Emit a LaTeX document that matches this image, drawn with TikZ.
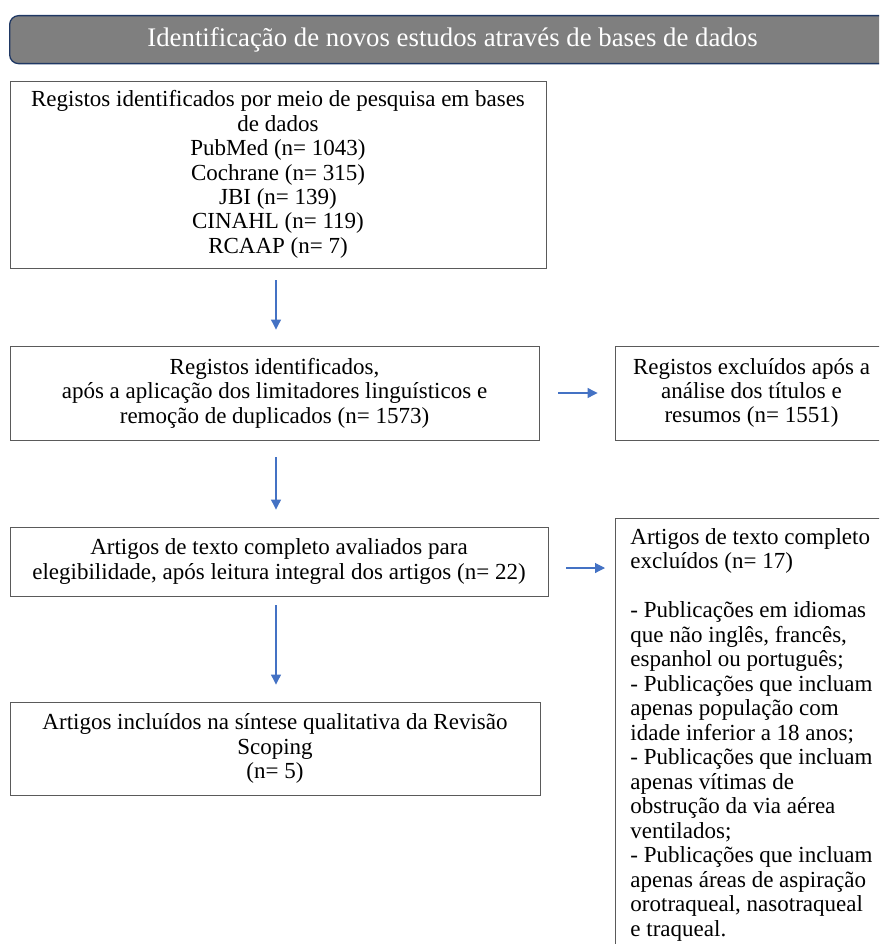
\documentclass[tikz,border=0pt]{standalone}
\usepackage{fontspec}
\setmainfont{Liberation Serif}
\usetikzlibrary{arrows.meta}
\definecolor{arrblue}{HTML}{4472C4}
\definecolor{hdrfill}{HTML}{7F7F7F}
\definecolor{hdrline}{HTML}{1F3864}
\definecolor{boxline}{HTML}{5A5A5A}
\tikzset{
  box/.style={draw=boxline, line width=0.9pt, align=center, inner sep=0pt,
    font=\fontsize{23}{24.4}\selectfont},
  sidebox/.style={draw=boxline, line width=0.9pt, align=left, anchor=north west,
    inner xsep=15pt, inner ysep=10pt, font=\fontsize{23}{24.5}\selectfont},
  arr/.style={draw=arrblue, line width=1.1pt, -{Triangle[length=10pt,width=10pt]}},
  hdr/.style={draw=hdrline, fill=hdrfill, line width=1.3pt, rounded corners=9pt}
}
\begin{document}
\begin{tikzpicture}[x=1pt,y=-1pt]
\useasboundingbox (0,0) rectangle (879,944);
\clip (0,0) rectangle (879,944);
\node[hdr, minimum width=893pt, minimum height=48pt, anchor=north west] (hdr) at (9,15) {};
\node[text=white, font=\fontsize{26.8}{30}\selectfont] (hdrtxt) at (452.5,40) {Identificação de novos estudos através de bases de dados};

\node[box, minimum width=536pt, minimum height=187pt] (b1) at (278,174.5) {Registos identificados por meio de pesquisa em bases\\de dados\\PubMed (n= 1043)\\Cochrane (n= 315)\\JBI (n= 139)\\CINAHL (n= 119)\\RCAAP (n= 7)};
\node[box, minimum width=529pt, minimum height=94pt] (b2) at (274.5,393) {Registos identificados,\\após a aplicação dos limitadores linguísticos e\\remoção de duplicados (n= 1573)};
\node[box, minimum width=273pt, minimum height=94pt] (b3) at (751.5,393) {Registos excluídos após a\\análise dos títulos e\\resumos (n= 1551)};
\node[box, minimum width=538pt, minimum height=69pt] (b4) at (279,561.5) {Artigos de texto completo avaliados para\\elegibilidade, após leitura integral dos artigos (n= 22)};
\node[sidebox] (b5) at (615,518) {Artigos de texto completo\\excluídos (n= 17)\\[24.5pt]- Publicações em idiomas\\que não inglês, francês,\\espanhol ou português;\\- Publicações que incluam\\apenas população com\\idade inferior a 18 anos;\\- Publicações que incluam\\apenas vítimas de\\obstrução da via aérea\\ventilados;\\- Publicações que incluam\\apenas áreas de aspiração\\orotraqueal, nasotraqueal\\e traqueal.};
\node[box, minimum width=530pt, minimum height=93pt] (b6) at (275,748.5) {Artigos incluídos na síntese qualitativa da Revisão\\Scoping\\(n= 5)};

\coordinate (ax) at (276,0);
\coordinate (ay) at (0,568);
\draw[arr, shorten <=12pt, shorten >=16pt] (b1.south -| ax) -- (b2.north -| ax);
\draw[arr, shorten <=17pt, shorten >=17pt] (b2.south -| ax) -- (b4.north -| ax);
\draw[arr, shorten <=9pt, shorten >=17pt] (b4.south -| ax) -- (b6.north -| ax);
\draw[arr, shorten <=19pt, shorten >=17pt] (b2.east) -- (b3.west);
\draw[arr, shorten <=18pt, shorten >=10pt] (b4.east |- ay) -- (b5.west |- ay);
\end{tikzpicture}
\end{document}
